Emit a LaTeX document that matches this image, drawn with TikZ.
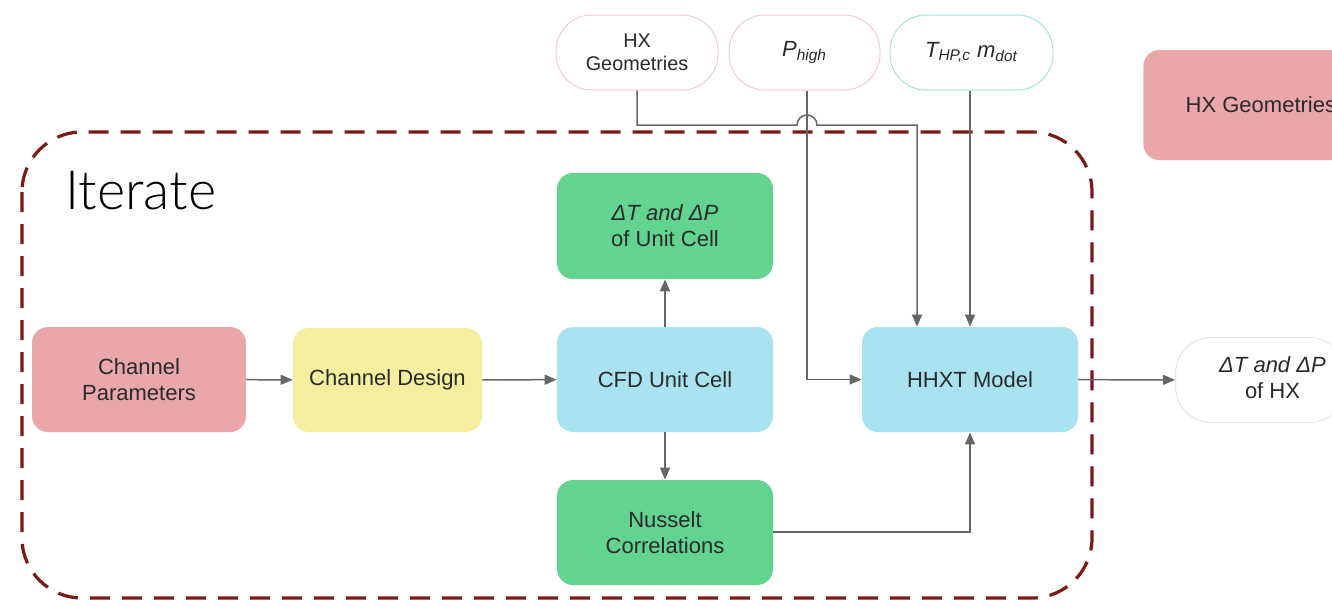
\documentclass[tikz,border=0pt]{standalone}
\usepackage{fontspec}
\setmainfont{Liberation Sans}
\newfontfamily\iterfont{Lato Light}
\usetikzlibrary{arrows.meta,calc}
\definecolor{cpink}{HTML}{E9A7A9}
\definecolor{cyellow}{HTML}{F5EE9E}
\definecolor{cblue}{HTML}{A9E3EF}
\definecolor{cgreen}{HTML}{62D490}
\definecolor{cline}{HTML}{666666}
\definecolor{cdash}{HTML}{7A1A14}
\definecolor{ctext}{HTML}{2A2A2A}
\definecolor{pillpink}{HTML}{EFCDCF}
\definecolor{pillteal}{HTML}{A6E4DE}
\definecolor{pillgray}{HTML}{E6E6E6}
\tikzset{
  procbox/.style={draw=none, rounded corners=8pt, align=center, text=ctext,
    font=\fontsize{11}{13}\selectfont, inner sep=0pt},
  pill/.style={draw, fill=white, rounded corners=18pt, align=center, text=ctext,
    font=\fontsize{9.9}{11.5}\selectfont, inner sep=0pt, line width=0.5pt},
  conn/.style={draw=cline, line width=0.75pt},
  arr/.style={conn, -{Triangle[length=6pt,width=5pt]}},
  iterbox/.style={draw=cdash, line width=1.6pt, dash pattern=on 10pt off 6pt, rounded corners=30pt}
}
\begin{document}
\begin{tikzpicture}[x=0.5pt,y=0.5pt]
\useasboundingbox (0,0) rectangle (1332,-606);
\clip (0,0) rectangle (1332,-606);
\fill[white] (0,0) rectangle (1332,-606);

% dashed iterate frame
\draw[iterbox] (22,-132) rectangle (1092,-598);
\node[anchor=west, font=\iterfont\fontsize{27}{30}\selectfont, text=black, inner sep=0pt] (iter) at (65,-191) {Iterate};

% process boxes
\node[procbox, fill=cpink, minimum width=107pt, minimum height=52.5pt] (chp) at (139,-379.5) {Channel\\Parameters};
\node[procbox, fill=cyellow, minimum width=94.5pt, minimum height=52pt] (chd) at (387.5,-380) {Channel Design};
\node[procbox, fill=cblue, minimum width=108pt, minimum height=52.5pt] (cfd) at (665,-379.5) {CFD Unit Cell};
\node[procbox, fill=cgreen, minimum width=108pt, minimum height=53pt] (dtu) at (665,-226) {\textit{ΔT and ΔP}\\of Unit Cell};
\node[procbox, fill=cgreen, minimum width=108pt, minimum height=52.5pt] (nus) at (665,-532.5) {Nusselt\\Correlations};
\node[procbox, fill=cblue, minimum width=108pt, minimum height=52.5pt] (hhxt) at (970,-379.5) {HHXT Model};
\node[procbox, fill=cpink, minimum width=104pt, minimum height=55pt, anchor=west] (hxg2) at (1143,-105) {\hspace*{13.5pt}HX Geometries\hfill};

% input pills
\node[pill, draw=pillpink, minimum width=81pt, minimum height=37.5pt] (hxg) at (637,-52.5) {HX\\Geometries};
\node[pill, draw=pillpink, minimum width=75.5pt, minimum height=37.5pt, font=\fontsize{11}{13}\selectfont] (ph) at (804.5,-52.5) {\textit{P\textsubscript{high}}};
\node[pill, draw=pillteal, minimum width=81.5pt, minimum height=37.5pt, font=\fontsize{11}{13}\selectfont] (thp) at (971.5,-52.5) {\textit{T\textsubscript{HP,c} m\textsubscript{dot}}};
\node[pill, draw=pillgray, minimum width=85pt, minimum height=42.5pt, font=\fontsize{11}{13}\selectfont, anchor=west] (dthx) at (1175,-380) {\hspace*{12pt}\begin{tabular}{@{}c@{}}\textit{ΔT and ΔP}\\of HX\end{tabular}\hfill};

% connectors
\draw[arr] (chp) -- (chd);
\draw[arr] (chd) -- (cfd);
\draw[arr] (cfd) -- (dtu);
\draw[arr] (cfd) -- (nus);
\draw[arr] (hhxt) -- (dthx);

\coordinate (hxturn) at (917,-125);
\coordinate (phx) at (807,-125);
\draw[arr] (hxg.south) |- ($(phx)+(-10,0)$) arc[start angle=180,end angle=0,radius=10] -- (hxturn) -- (hxturn |- hhxt.north);
\draw[arr] (ph.south -| phx) |- (hhxt.west);
\draw[arr] (thp.south -| 970,0) -- (hhxt.north -| 970,0);
\draw[arr] (nus.east |- 0,-532) -| (hhxt.south -| 970,0);
\end{tikzpicture}
\end{document}
